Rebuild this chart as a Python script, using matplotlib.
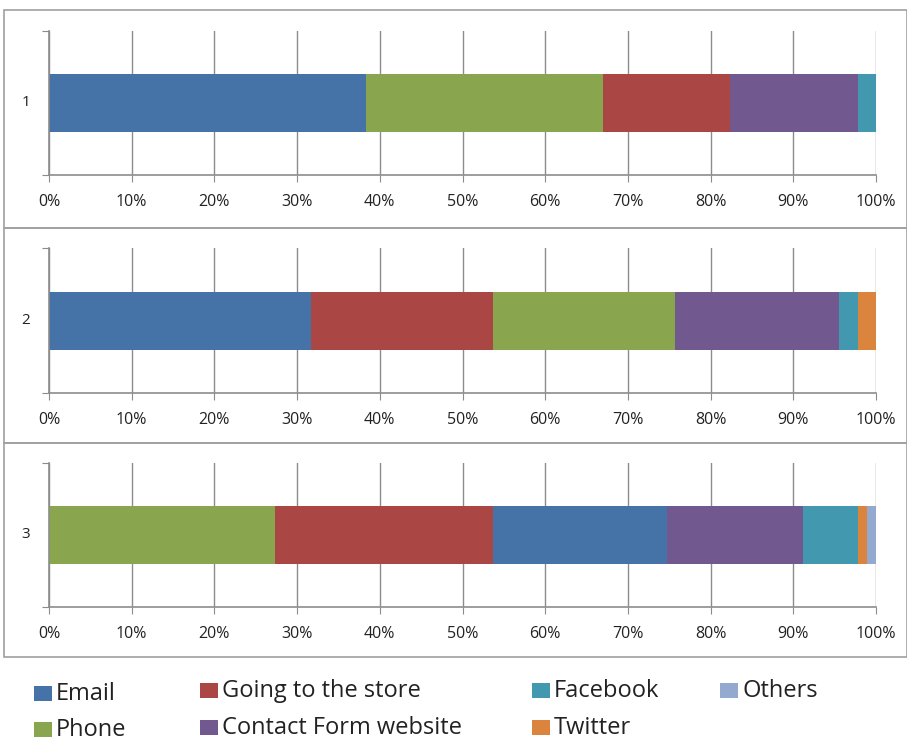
import matplotlib.pyplot as plt
from matplotlib.patches import Rectangle
from matplotlib.ticker import PercentFormatter

plt.rcParams['font.family'] = ['Open Sans', 'DejaVu Sans']

# 各グループの内訳（％）と積み上げ順
group_labels = ["1", "2", "3"]
group1_order = ["Email", "Phone", "Going to the store", "Contact Form website", "Facebook"]
group1_values = [38.3, 28.7, 15.3, 15.5, 2.2]
group2_order = ["Email", "Going to the store", "Phone", "Contact Form website", "Facebook", "Twitter"]
group2_values = [31.7, 22.0, 22.0, 19.8, 2.3, 2.2]
group3_order = ["Phone", "Going to the store", "Email", "Contact Form website", "Facebook", "Twitter", "Others"]
group3_values = [27.3, 26.4, 21.0, 16.5, 6.6, 1.1, 1.1]

channel_colors = {
    "Email": "#4572A7",
    "Going to the store": "#AA4643",
    "Phone": "#89A54E",
    "Contact Form website": "#71588F",
    "Facebook": "#4198AF",
    "Twitter": "#DB843D",
    "Others": "#93A9CF",
}
legend_order = ["Email", "Phone", "Going to the store", "Contact Form website",
                "Facebook", "Twitter", "Others"]

W, H = 907, 742
fig = plt.figure(figsize=(W / 100, H / 100), dpi=100)


def px_box(x0, y0, x1, y1):
    # ピクセル座標(左上原点) -> figure座標
    return [x0 / W, 1 - y1 / H, (x1 - x0) / W, (y1 - y0) / H]


panels = [
    (group1_order, group1_values, 10, 228, 31, 175),
    (group2_order, group2_values, 228, 443, 248, 393),
    (group3_order, group3_values, 443, 657, 463, 607),
]

for i, (order, values, top, bottom, ax_top, ax_bot) in enumerate(panels):
    fig.patches.append(Rectangle((4 / W, 1 - bottom / H), (W - 4) / W, (bottom - top) / H,
                                 transform=fig.transFigure, fill=False,
                                 edgecolor="#a0a0a0", linewidth=1.2))
    ax = fig.add_axes(px_box(49, ax_top, 876, ax_bot))
    left = 0
    for name, v in zip(order, values):
        ax.barh(0, v, left=left, height=0.4, color=channel_colors[name], edgecolor="none")
        left += v
    ax.set_xlim(0, 100)
    ax.set_ylim(-0.5, 0.5)
    ax.set_xticks(range(0, 101, 10))
    ax.xaxis.set_major_formatter(PercentFormatter(decimals=0))
    ax.grid(axis="x", color="#8c8c8c", linewidth=1)
    ax.set_axisbelow(True)
    for s in ["top", "right"]:
        ax.spines[s].set_visible(False)
    for s in ["left", "bottom"]:
        ax.spines[s].set_color("#8c8c8c")
        ax.spines[s].set_linewidth(1.2)
    ax.tick_params(axis="x", length=5, color="#8c8c8c", labelsize=11.5, pad=9, labelcolor="#222222")
    ax.set_yticks([-0.5, 0.5])
    ax.set_yticklabels([])
    ax.tick_params(axis="y", length=5, color="#8c8c8c")
    ax.text(-0.028, 0.5, group_labels[i], transform=ax.transAxes, ha="center", va="center",
            fontsize=11, color="#222222")

# 凡例（四角の左端x, 中心y）
legend_pos = {
    "Email": (34, 693), "Phone": (34, 729),
    "Going to the store": (200, 690), "Contact Form website": (200, 727),
    "Facebook": (532, 690), "Twitter": (532, 727),
    "Others": (720, 690),
}
for name in legend_order:
    x, y = legend_pos[name]
    fig.patches.append(Rectangle((x / W, 1 - (y + 7.5) / H), 18 / W, 15 / H,
                                 transform=fig.transFigure, facecolor=channel_colors[name],
                                 edgecolor="none"))
    fig.text((x + 22) / W, 1 - (y + 1) / H, name, ha="left", va="center", fontsize=17,
             color="#222222")

fig.savefig("out.png", dpi=100)
